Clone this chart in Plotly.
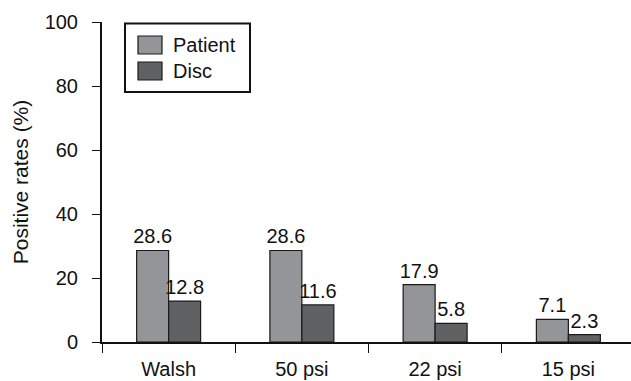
import plotly.graph_objects as go

categories = ["Walsh", "50 psi", "22 psi", "15 psi"]
patient = [28.6, 28.6, 17.9, 7.1]
disc = [12.8, 11.6, 5.8, 2.3]
y_ticks = [0, 20, 40, 60, 80, 100]

FONT = "Liberation Sans, Arial, Helvetica, sans-serif"
FS = 20
PATIENT_COLOR = "#949598"
DISC_COLOR = "#606163"
EDGE = "#1a1a1a"

W, H = 631, 381
ML, MR, MT, MB = 102, 0, 22, 39


def px(x):
    return (x - ML) / (W - ML - MR)


def py(y):
    return (H - MB - y) / (H - MT - MB)


fig = go.Figure()
for name, vals, color in [("Patient", patient, PATIENT_COLOR), ("Disc", disc, DISC_COLOR)]:
    fig.add_trace(go.Bar(
        name=name, x=categories, y=vals,
        marker=dict(color=color, line=dict(color=EDGE, width=1.2)),
        text=[f"{v:.1f}" for v in vals], textposition="outside",
        constraintext="none",
        textfont=dict(size=FS, color="#111"), cliponaxis=False,
        showlegend=False,
    ))

# legend box drawn by hand so the swatches are the wide rectangles
shapes = [
    dict(type="rect", xref="paper", yref="paper", x0=px(125), x1=px(250),
         y0=py(92), y1=py(23.5), line=dict(color="#111", width=2), fillcolor="white"),
]
annotations = []
for i, (name, color) in enumerate([("Patient", PATIENT_COLOR), ("Disc", DISC_COLOR)]):
    top = 36 + i * 26
    shapes.append(dict(type="rect", xref="paper", yref="paper", x0=px(138), x1=px(162),
                       y0=py(top + 18), y1=py(top), line=dict(color=EDGE, width=1.2),
                       fillcolor=color))
    annotations.append(dict(text=name, xref="paper", yref="paper", x=px(171), y=py(top + 9),
                            xanchor="left", yanchor="middle", showarrow=False,
                            font=dict(size=FS, family=FONT, color="#111")))

fig.update_layout(
    width=W, height=H,
    margin=dict(l=ML, r=MR, t=MT, b=MB),
    paper_bgcolor="white", plot_bgcolor="white",
    font=dict(family=FONT, size=FS, color="#111"),
    barmode="group", bargap=0.52, bargroupgap=0,
    uniformtext=dict(mode=False),
    shapes=shapes, annotations=annotations,
    xaxis=dict(
        range=[-0.5, 3.47], showline=True, linecolor="#111", linewidth=2,
        ticks="outside", tickson="boundaries", ticklen=9, tickwidth=1,
        tickcolor="#111", showgrid=False, zeroline=False, ticklabelstandoff=8,
        tickfont=dict(size=FS, family=FONT),
    ),
    yaxis=dict(
        range=[0, 100], tickvals=y_ticks, showline=True, linecolor="#111",
        linewidth=2, ticks="outside", ticklen=8, tickwidth=1, tickcolor="#111",
        showgrid=False, zeroline=False, ticklabelstandoff=10,
        tickfont=dict(size=FS, family=FONT),
        title=dict(text="Positive rates (%)", font=dict(size=21, family=FONT), standoff=10),
    ),
)

fig.write_html("out.html")
